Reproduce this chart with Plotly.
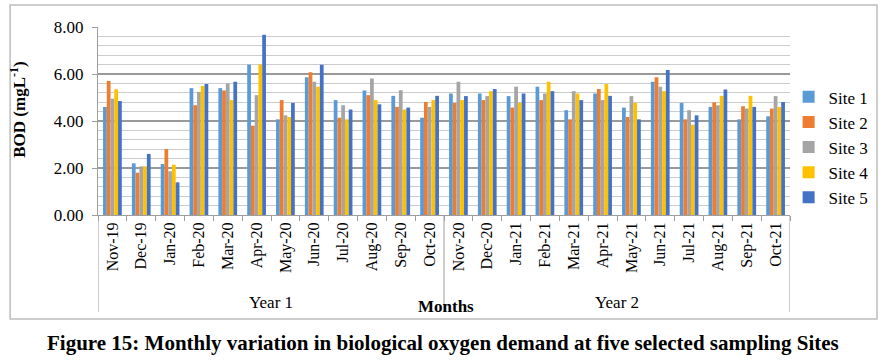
import plotly.graph_objects as go

months = ["Nov-19", "Dec-19", "Jan-20", "Feb-20", "Mar-20", "Apr-20", "May-20", "Jun-20",
          "Jul-20", "Aug-20", "Sep-20", "Oct-20", "Nov-20", "Dec-20", "Jan-21", "Feb-21",
          "Mar-21", "Apr-21", "May-21", "Jun-21", "Jul-21", "Aug-21", "Sep-21", "Oct-21"]

site1 = [4.6, 2.2, 2.17, 5.4, 5.4, 6.4, 4.07, 5.86, 4.89, 5.3, 5.07, 4.14,
         5.17, 5.17, 5.06, 5.46, 4.46, 5.17, 4.57, 5.67, 4.77, 4.6, 4.07, 4.2]
site2 = [5.7, 1.8, 2.81, 4.67, 5.3, 3.8, 4.89, 6.07, 4.14, 5.1, 4.6, 4.81,
         4.77, 4.89, 4.57, 4.89, 4.07, 5.36, 4.17, 5.86, 4.07, 4.79, 4.63, 4.53]
site3 = [4.95, 2.07, 1.86, 5.24, 5.6, 5.1, 4.24, 5.67, 4.67, 5.81, 5.31, 4.6,
         5.67, 5.06, 5.46, 5.17, 5.27, 4.89, 5.06, 5.46, 4.46, 4.67, 4.53, 5.06]
site4 = [5.35, 2.07, 2.14, 5.49, 4.89, 6.4, 4.17, 5.46, 4.07, 4.89, 4.49, 4.89,
         4.89, 5.27, 4.77, 5.67, 5.17, 5.57, 4.77, 5.27, 3.84, 5.07, 5.07, 4.6]
site5 = [4.85, 2.6, 1.39, 5.57, 5.67, 7.67, 4.77, 6.39, 4.49, 4.71, 4.57, 5.07,
         5.06, 5.36, 5.17, 5.27, 4.89, 5.07, 4.07, 6.17, 4.24, 5.34, 4.6, 4.81]

series = [("Site 1", site1, "#5B9BD5"), ("Site 2", site2, "#ED7D31"),
          ("Site 3", site3, "#A5A5A5"), ("Site 4", site4, "#FFC000"),
          ("Site 5", site5, "#4472C4")]

years = ["Year 1", "Year 2"]

FONT = "Liberation Serif"

fig = go.Figure()
for name, vals, col in series:
    fig.add_trace(go.Bar(x=months, y=vals, name=name, marker=dict(color=col, line=dict(width=0))))

fig.update_layout(
    width=887, height=363,
    margin=dict(l=98, r=97, t=27, b=148, autoexpand=False),
    paper_bgcolor="white", plot_bgcolor="white",
    barmode="group", bargap=0.35, bargroupgap=0.0,
    font=dict(family=FONT, size=16, color="black"),
    legend=dict(x=0.998, y=0.36, xanchor="left", yanchor="middle",
                font=dict(family=FONT, size=17, color="black"), itemwidth=30,
                bgcolor="rgba(0,0,0,0)"),
    showlegend=True,
)

fig.update_xaxes(
    type="category", range=[-0.5, 23.5], tickangle=-90,
    showline=True, linecolor="#9e9e9e", linewidth=1,
    ticks="outside", tickson="boundaries", ticklen=5, tickcolor="#9e9e9e",
    tickfont=dict(family=FONT, size=16, color="black"), showgrid=False,
)
fig.update_yaxes(
    range=[0, 8], dtick=2, tickformat=".2f",
    showline=True, linecolor="#9e9e9e", linewidth=1,
    ticks="outside", ticklen=5, tickcolor="#9e9e9e", ticklabelstandoff=5,
    tickfont=dict(family=FONT, size=17, color="black"),
    showgrid=True, gridcolor="#9a9a9a", gridwidth=1.5,
    minor=dict(dtick=0.4, showgrid=True, gridcolor="#cccccc", gridwidth=1),
    zeroline=False,
)

# group separator lines under the category axis
for xv in [-0.5, 11.5, 23.5]:
    fig.add_shape(type="line", xref="x", yref="paper", x0=xv, x1=xv, y0=0, y1=-0.516,
                  line=dict(color="#9e9e9e", width=1))

# year labels
for i, yl in enumerate(years):
    fig.add_annotation(x=5.5 + 12 * i, xref="x", y=-0.463, yref="paper", text=yl,
                       showarrow=False, font=dict(family=FONT, size=17),
                       xanchor="center", yanchor="middle")

fig.add_annotation(x=0.503, xref="paper", y=-0.489, yref="paper", text="<b>Months</b>",
                   showarrow=False, font=dict(family=FONT, size=17),
                   xanchor="center", yanchor="middle")

fig.add_annotation(x=-0.1156, xref="paper", y=0.56, yref="paper",
                   text="<b>BOD (mgL<sup>-1</sup>)</b>", textangle=-90,
                   showarrow=False, font=dict(family=FONT, size=17),
                   xanchor="center", yanchor="middle")

# outer chart border
fig.add_shape(type="rect", xref="paper", yref="paper", x0=-0.127, x1=1.1257, y0=-0.553, y1=1.117,
              line=dict(color="#bdbdbd", width=1.5), fillcolor="rgba(0,0,0,0)")

fig.add_annotation(x=0.4986, xref="paper", y=-0.681, yref="paper",
                   text="<b>Figure 15: Monthly variation in biological oxygen demand at five selected sampling Sites</b>",
                   showarrow=False, font=dict(family=FONT, size=21),
                   xanchor="center", yanchor="middle")

fig.write_html("out.html", config={"displayModeBar": False},
               post_script="document.body.style.margin='0';")
